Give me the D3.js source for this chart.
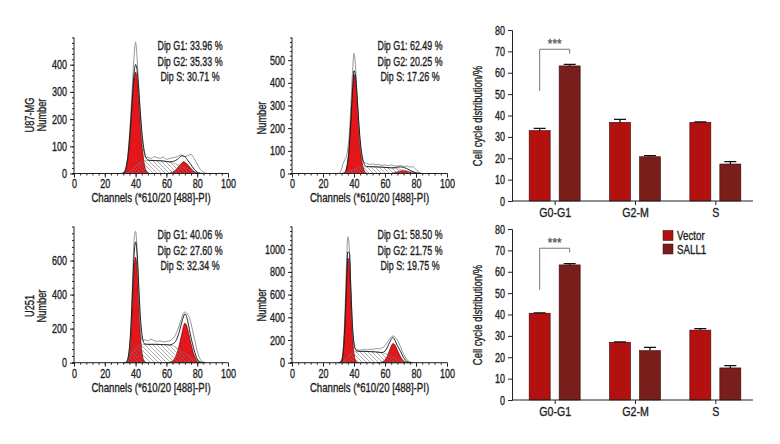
<!DOCTYPE html>
<html><head><meta charset="utf-8">
<script src="https://cdn.jsdelivr.net/npm/d3@7"></script>
<style>
body{margin:0;background:#fff;}
svg text{font-family:"Liberation Sans",Arial,sans-serif;fill:#1e1e1e;stroke:#1e1e1e;stroke-width:0.35px;}
</style></head><body>
<svg id="c" width="780" height="444"></svg>
<script>
// ---------------- DATA ----------------
const channelTicks = [0,20,40,60,80,100];
const channelLabel = "Channels (*610/20 [488]-PI)";

// U87-MG Vector
const u87VecG1 = [[32,2],[33,8],[34,25],[35,60],[36,115],[37,190],[38,275],[39,345],[40,373],[41,345],[42,275],[43,190],[44,115],[45,60],[46,25],[47,8],[48,2],[49,0]];
const u87VecG2 = [[61,0],[62,1],[64,5],[66,13],[68,26],[70,39],[71,43],[72,41],[74,31],[76,18],[78,7],[80,2],[82,0]];
const u87VecS = [[33,0],[34,2],[36,8],[38,18],[40,28],[42,38],[44,44],[46,47],[50,48],[54,47],[58,46],[62,42],[66,35],[70,26],[74,16],[78,6],[81,1],[83,0]];
const u87VecFit = [[31,0],[32,2],[33,8],[34,25],[35,62],[36,123],[37,203],[38,293],[39,368],[40,401],[41,378],[42,313],[43,231],[44,159],[45,106],[46,72],[47,55],[48,50],[50,48],[52,48],[54,47],[56,47],[58,46],[60,44],[62,43],[64,44],[66,48],[68,56],[70,65],[72,62],[74,47],[76,32],[78,16],[80,5],[82,1],[84,0]];
const u87VecRaw = [[30,0],[32,3],[33,10],[34,30],[35,70],[36,140],[37,230],[38,330],[39,430],[40,483],[41,420],[42,320],[43,220],[44,140],[45,90],[46,65],[47,58],[48,60],[50,55],[52,62],[54,58],[56,56],[58,60],[60,52],[62,55],[64,58],[66,60],[68,65],[70,68],[72,62],[74,66],[76,70],[78,55],[80,35],[82,15],[84,5],[86,0]];
const u87VecDip = ["Dip G1: 33.96 %","Dip G2: 35.33 %","Dip S: 30.71 %"];

// U87-MG SALL1
const u87SallG1 = [[33,0],[34,3],[35,15],[36,50],[37,120],[38,230],[39,350],[40,436],[41,410],[42,320],[43,210],[44,120],[45,60],[46,25],[47,8],[48,2],[49,0]];
const u87SallG2 = [[64,0],[66,3],[68,7],[70,11],[72,12],[74,10],[76,6],[78,2],[80,0]];
const u87SallS = [[33,0],[36,6],[38,12],[40,18],[42,23],[44,27],[46,29],[50,30],[55,29],[60,27],[65,24],[70,18],[74,12],[78,6],[81,2],[83,0]];
const u87SallFit = [[32,0],[34,4],[35,18],[36,56],[37,129],[38,242],[39,365],[40,454],[41,430],[42,343],[43,235],[44,147],[45,88],[46,54],[47,37],[48,31],[50,30],[52,30],[54,29],[56,29],[58,28],[60,27],[62,26],[64,25],[66,26],[68,28],[70,29],[72,27],[74,22],[76,15],[78,8],[80,3],[82,1],[84,0]];
const u87SallRaw = [[30,0],[31,5],[32,20],[33,45],[34,60],[35,75],[36,110],[37,180],[38,300],[39,440],[40,530],[41,470],[42,340],[43,220],[44,130],[45,75],[46,55],[47,48],[48,45],[50,40],[52,42],[54,38],[56,40],[58,36],[60,38],[62,35],[64,37],[66,34],[68,32],[70,36],[72,30],[74,34],[76,28],[78,30],[80,18],[82,5],[84,0]];
const u87SallDip = ["Dip G1: 62.49 %","Dip G2: 20.25 %","Dip S: 17.26 %"];

// U251 Vector
const u251VecG1 = [[33,0],[34,3],[35,15],[36,60],[37,170],[38,360],[39,550],[40,620],[41,540],[42,360],[43,180],[44,70],[45,20],[46,5],[47,0]];
const u251VecG2 = [[60,0],[62,2],[64,10],[66,35],[68,90],[70,170],[71,210],[72,232],[73,222],[74,190],[76,110],[78,45],[80,12],[82,2],[84,0]];
const u251VecS = [[34,0],[36,30],[38,65],[40,90],[42,103],[44,107],[48,108],[52,108],[56,107],[60,106],[64,100],[68,80],[72,55],[76,30],[80,10],[82,3],[84,0]];
const u251VecFit = [[33,0],[34,3],[35,23],[36,90],[37,218],[38,425],[39,628],[40,710],[41,637],[42,463],[43,285],[44,177],[45,125],[46,110],[48,108],[50,108],[52,108],[54,108],[56,107],[58,106],[60,106],[62,104],[64,110],[66,126],[68,170],[70,238],[71,268],[72,287],[73,273],[74,237],[76,148],[78,75],[80,22],[82,5],[84,0]];
const u251VecRaw = [[32,0],[34,5],[35,25],[36,80],[37,220],[38,480],[39,720],[40,772],[41,650],[42,420],[43,220],[44,140],[45,130],[46,135],[48,128],[50,138],[52,130],[54,125],[56,128],[58,122],[60,125],[62,128],[64,140],[66,165],[68,210],[70,265],[71,290],[72,298],[73,292],[74,280],[75,265],[76,230],[78,150],[80,70],[82,20],[84,5],[86,0]];
const u251VecDip = ["Dip G1: 40.06 %","Dip G2: 27.60 %","Dip S: 32.34 %"];

// U251 SALL1
const u251SallG1 = [[30,0],[31,2],[32,15],[33,80],[34,280],[35,620],[36,920],[37,900],[38,560],[39,240],[40,80],[41,20],[42,4],[43,0]];
const u251SallG2 = [[55,0],[57,2],[59,12],[61,45],[63,110],[64,145],[65,168],[66,165],[67,140],[69,80],[71,30],[73,8],[75,1],[77,0]];
const u251SallS = [[32,0],[34,25],[36,55],[38,80],[40,95],[42,100],[46,100],[50,98],[54,95],[58,88],[62,70],[66,45],[70,20],[73,5],[75,0]];
const u251SallFit = [[30,0],[31,2],[32,15],[33,92],[34,305],[35,660],[36,975],[37,968],[38,640],[39,328],[40,175],[41,117],[42,104],[44,100],[46,100],[48,99],[50,98],[52,97],[54,95],[56,92],[58,90],[60,102],[62,150],[64,205],[65,222],[66,210],[67,180],[68,150],[70,100],[72,45],[74,12],[76,2],[78,0]];
const u251SallRaw = [[30,0],[31,5],[32,30],[33,120],[34,380],[35,800],[36,1110],[37,1000],[38,650],[39,320],[40,160],[41,120],[42,115],[44,110],[46,118],[48,112],[50,120],[52,115],[54,125],[56,122],[58,130],[60,150],[62,190],[64,228],[65,235],[66,232],[68,200],[70,140],[72,75],[74,30],[76,8],[78,0]];
const u251SallDip = ["Dip G1: 58.50 %","Dip G2: 21.75 %","Dip S: 19.75 %"];

// Bar charts
const phases = ["G0-G1","G2-M","S"];
const groups = ["Vector","SALL1"];
const u87BarVector = [32.9, 36.8, 36.8];
const u87BarVectorErr = [1.1, 1.4, 0.2];
const u87BarSall = [63.2, 20.7, 17.3];
const u87BarSallErr = [0.7, 0.5, 1.1];
const u251BarVector = [40.6, 27.0, 32.7];
const u251BarVectorErr = [0.2, 0.2, 0.7];
const u251BarSall = [63.2, 23.1, 15.0];
const u251BarSallErr = [0.6, 1.5, 1.1];
const barTicks = [0,10,20,30,40,50,60,70,80];
const sigBracket = [71, 51.5, 69]; // top, left leg bottom, right leg bottom
const sigLabel = "***";
const barYLabel = "Cell cycle distribution/%";

// ---------------- DRAW ----------------
const svg = d3.select("#c");
const defs = svg.append("defs");
const pat = defs.append("pattern").attr("id","hatch").attr("patternUnits","userSpaceOnUse").attr("width",4).attr("height",4);
pat.append("path").attr("d","M-1,-1L5,5M-1,3L1,5M3,-1L5,1").attr("stroke","#7a7a7a").attr("stroke-width",0.6);

const RED = "#e3161c";

function T(g, x, y, txt, o){
  o = o||{};
  const s = o.scale||0.75;
  let tr = `translate(${x},${y})`;
  if(o.rotate) tr += ` rotate(${o.rotate})`;
  tr += ` scale(${s},1)`;
  const t = g.append("text").attr("transform",tr).attr("text-anchor",o.anchor||"middle")
    .attr("dy",o.dy||"0.35em").attr("font-size",o.size||12).text(txt);
  if(o.fill) t.style("fill",o.fill).style("stroke",o.fill);
  return t;
}
function condenseAxis(a, s, size){
  a.selectAll(".tick text").each(function(){
    const t = d3.select(this);
    const x0 = +t.attr("x")||0;
    t.attr("transform",`scale(${s},1)`).attr("x",x0/s).attr("font-size",size).attr("fill",null);
  });
}

function drawHist(cfg){
  const g = svg.append("g");
  const x = d3.scaleLinear().domain([0,100]).range([cfg.x0,cfg.x1]);
  const y = d3.scaleLinear().domain([0,cfg.yMax]).range([cfg.y0,cfg.y1]);
  const area = d3.area().x(d=>x(d[0])).y0(y(0)).y1(d=>y(d[1])).curve(d3.curveMonotoneX);
  const line = d3.line().x(d=>x(d[0])).y(d=>y(d[1])).curve(d3.curveMonotoneX);
  g.append("path").attr("d",area(cfg.raw)).attr("fill","#fff");
  g.append("path").attr("d",area(cfg.g1)).attr("fill",RED).attr("stroke","#6b0000").attr("stroke-width",0.7);
  g.append("path").attr("d",area(cfg.g2)).attr("fill",RED).attr("stroke","#6b0000").attr("stroke-width",0.7);
  g.append("path").attr("d",area(cfg.s)).attr("fill","url(#hatch)").attr("stroke","#777").attr("stroke-width",0.5);
  g.append("path").attr("d",line(cfg.raw)).attr("fill","none").attr("stroke","#8a8a8a").attr("stroke-width",0.9);
  g.append("path").attr("d",line(cfg.fit)).attr("fill","none").attr("stroke","#111").attr("stroke-width",0.9);

  const xa = g.append("g").attr("transform",`translate(0,${cfg.y0})`)
    .call(d3.axisBottom(x).tickValues(channelTicks).tickSize(4).tickPadding(2));
  const xm = g.append("g").attr("transform",`translate(0,${cfg.y0})`)
    .call(d3.axisBottom(x).tickValues(d3.range(0,101,4)).tickSize(2).tickFormat(""));
  xm.select(".domain").remove();
  const ya = g.append("g").attr("transform",`translate(${cfg.x0},0)`)
    .call(d3.axisLeft(y).tickValues(cfg.yTicks).tickSize(4).tickPadding(3).tickFormat(d3.format("d")));
  const ym = g.append("g").attr("transform",`translate(${cfg.x0},0)`)
    .call(d3.axisLeft(y).tickValues(d3.range(0,cfg.yMax+1,cfg.yMinor)).tickSize(2).tickFormat(""));
  ym.select(".domain").remove();
  condenseAxis(xa,0.72,12.5);
  condenseAxis(ya,0.72,12.5);
  g.selectAll(".domain, .tick line").attr("stroke","#222");
  ya.select(".domain").attr("d",`M0,${cfg.y0}V${cfg.y1}`);
  xa.select(".domain").attr("d",`M${cfg.x0-2},0H${cfg.x1}`);

  T(g,(cfg.x0+cfg.x1)/2,cfg.y0+24.5,channelLabel,{size:12.5,scale:0.77});
  cfg.ylab.forEach((t,i)=>T(g,cfg.ylabX[i],cfg.ylabY,t,{rotate:-90,size:12.5,scale:0.74}));
  cfg.dip.forEach((t,i)=>T(g,cfg.dipX,cfg.dipY+i*15.3,t,{size:12.5,scale:0.71}));
}

drawHist({x0:74,x1:228,y0:173.5,y1:37.5,yMax:500,yTicks:[0,100,200,300,400],yMinor:20,
  g1:u87VecG1,g2:u87VecG2,s:u87VecS,fit:u87VecFit,raw:u87VecRaw,dip:u87VecDip,
  ylab:["U87-MG","Number"],ylabX:[30,41.5],ylabY:115,dipX:190,dipY:46});
drawHist({x0:292,x1:447,y0:173.5,y1:37.5,yMax:600,yTicks:[0,100,200,300,400,500],yMinor:20,
  g1:u87SallG1,g2:u87SallG2,s:u87SallS,fit:u87SallFit,raw:u87SallRaw,dip:u87SallDip,
  ylab:["Number"],ylabX:[261.5],ylabY:118,dipX:410,dipY:46});
drawHist({x0:74,x1:228,y0:362.7,y1:226.5,yMax:800,yTicks:[0,200,400,600],yMinor:40,
  g1:u251VecG1,g2:u251VecG2,s:u251VecS,fit:u251VecFit,raw:u251VecRaw,dip:u251VecDip,
  ylab:["U251","Number"],ylabX:[30,41.5],ylabY:306,dipX:190,dipY:235});
drawHist({x0:292,x1:447,y0:362.7,y1:226.5,yMax:1200,yTicks:[0,200,400,600,800,1000],yMinor:40,
  g1:u251SallG1,g2:u251SallG2,s:u251SallS,fit:u251SallFit,raw:u251SallRaw,dip:u251SallDip,
  ylab:["Number"],ylabX:[261.5],ylabY:305,dipX:410,dipY:235});

const BAR_COL = {Vector:"#b3110f", SALL1:"#7a1e1b"};

function drawBars(cfg){
  const g = svg.append("g");
  const x = d3.scaleBand().domain(phases).range([515,756]);
  const xs = d3.scaleBand().domain(groups).range([-26,25]).paddingInner(0.3);
  const y = d3.scaleLinear().domain([0,80]).range([cfg.y0,cfg.y0-171]);
  const rows = [];
  phases.forEach((p,i)=>{
    rows.push({p,grp:"Vector",v:cfg.vec[i],e:cfg.vecErr[i]});
    rows.push({p,grp:"SALL1",v:cfg.sall[i],e:cfg.sallErr[i]});
  });
  const cx = d=>x(d.p)+x.bandwidth()/2;
  g.selectAll("rect.bar").data(rows).join("rect").attr("class","bar")
    .attr("x",d=>cx(d)+xs(d.grp)).attr("width",xs.bandwidth())
    .attr("y",d=>y(d.v)).attr("height",d=>y(0)-y(d.v))
    .attr("fill",d=>BAR_COL[d.grp]).attr("stroke","#3a0606").attr("stroke-width",0.6);
  rows.forEach(d=>{
    const mx = cx(d)+xs(d.grp)+xs.bandwidth()/2;
    g.append("path").attr("d",`M${mx},${y(d.v)}V${y(d.v+d.e)}M${mx-6},${y(d.v+d.e)}H${mx+6}`)
      .attr("stroke","#111").attr("stroke-width",1.3).attr("fill","none");
  });
  const ya = g.append("g").attr("transform","translate(512,0)")
    .call(d3.axisLeft(y).tickValues(barTicks).tickSize(4).tickPadding(3));
  condenseAxis(ya,0.72,12.5);
  const xa = g.append("g").attr("transform",`translate(0,${cfg.y0})`)
    .call(d3.axisBottom(x).tickSize(4).tickPadding(3));
  condenseAxis(xa,0.82,13);
  xa.select(".domain").attr("d","M512,0H753");
  g.selectAll(".domain, .tick line").attr("stroke","#222");
  T(g,478,cfg.y0-85,barYLabel,{rotate:-90,size:12.5,scale:0.76});
  const c0 = x(phases[0])+x.bandwidth()/2;
  const lx = c0+xs("Vector")+xs.bandwidth()/2, rx = c0+xs("SALL1")+xs.bandwidth()/2;
  g.append("path").attr("d",`M${lx},${y(sigBracket[1])}V${y(sigBracket[0])}H${rx}V${y(sigBracket[2])}`)
    .attr("fill","none").attr("stroke","#777").attr("stroke-width",1);
  T(g,(lx+rx)/2,y(sigBracket[0])-6,sigLabel,{size:13,scale:0.9,fill:"#555"});
  if(cfg.legend){
    groups.forEach((k,i)=>{
      g.append("rect").attr("x",663).attr("y",230.5+i*13.5).attr("width",10).attr("height",10).attr("fill",BAR_COL[k]).attr("stroke","#3a0606").attr("stroke-width",0.5);
      T(g,677,235.5+i*13.5,k,{anchor:"start",size:13,scale:0.75});
    });
  }
}
drawBars({y0:201,vec:u87BarVector,vecErr:u87BarVectorErr,sall:u87BarSall,sallErr:u87BarSallErr,legend:false});
drawBars({y0:400,vec:u251BarVector,vecErr:u251BarVectorErr,sall:u251BarSall,sallErr:u251BarSallErr,legend:true});
</script>
</body></html>
